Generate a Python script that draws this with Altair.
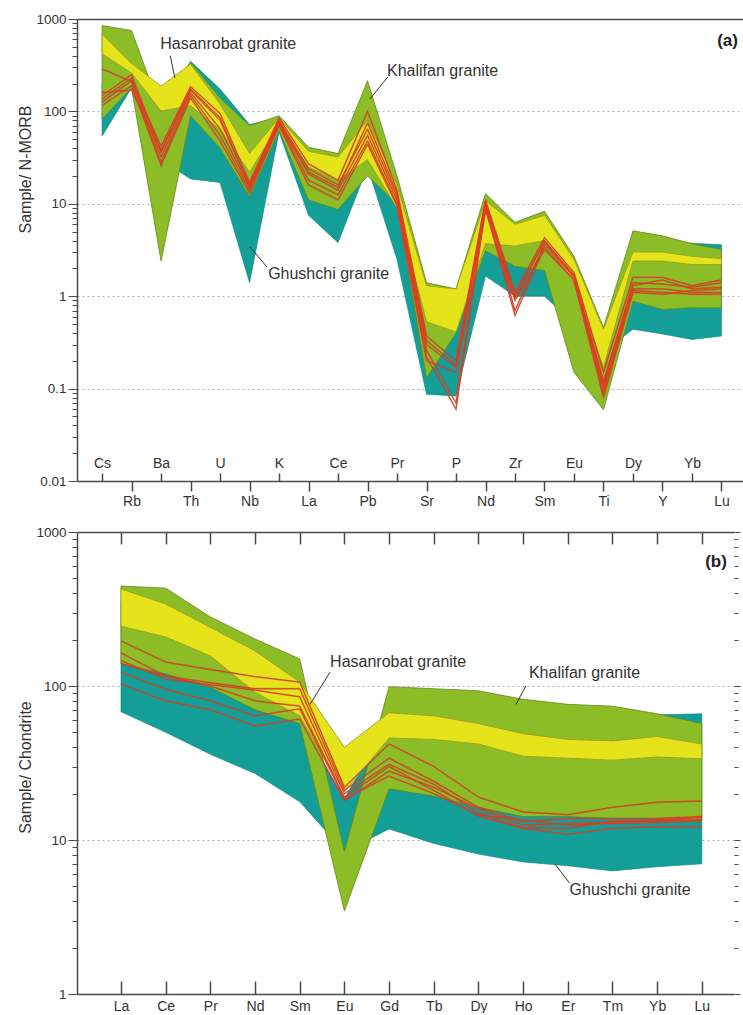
import altair as alt
import pandas as pd
import math

FONT = "Liberation Sans"
TXT = "#333333"
AXC = "#4a4a4a"
GREEN = "#8DBD26"
YELLOW = "#E5E41B"
TEAL = "#139E98"
RED = "#E53A1C"

# ---------------- Panel (a): N-MORB normalised spider diagram ----------------
elements_a = ["Cs", "Rb", "Ba", "Th", "U", "Nb", "K", "La", "Ce", "Pb", "Pr",
              "Sr", "P", "Nd", "Zr", "Sm", "Eu", "Ti", "Dy", "Y", "Yb", "Lu"]
khalifan_hi_a = [850, 750, 100, 340, 140, 70, 90, 41, 35, 215, 20, 1.4, 1.2, 12.9, 6.3, 8.3, 2.7, 0.46, 5.1, 4.5, 3.7, 3.2]
khalifan_lo_a = [83, 180, 2.4, 90, 40, 12, 62, 11, 8.7, 20, 10, 0.13, 0.4, 3.1, 2.1, 1.9, 0.15, 0.059, 0.88, 0.72, 0.75, 0.75]
hasanrobat_hi_a = [690, 330, 188, 325, 120, 35, 85, 37, 32, 80, 16, 1.3, 1.2, 10.8, 6, 7.5, 2.5, 0.44, 3.0, 3.0, 2.7, 2.55]
hasanrobat_lo_a = [420, 260, 101, 115, 64, 22, 72, 25, 18, 30, 9, 0.53, 0.41, 3.7, 3.5, 4, 1.4, 0.17, 2.4, 2.4, 2.2, 2.2]
ghushchi_hi_a = [200, 250, 100, 350, 175, 72, 85, 35, 30, 60, 15, 1.3, 1.0, 10, 5, 6, 2, 0.3, 4.0, 3.8, 3.75, 3.6]
ghushchi_lo_a = [54, 180, 30, 18.6, 17, 1.4, 60, 7.5, 3.8, 25, 2.5, 0.087, 0.083, 1.65, 1.0, 1.0, 0.5, 0.25, 0.44, 0.39, 0.34, 0.37]
samples_a = [
    [288, 210, 42, 185, 95, 17, 85, 27, 18, 100, 14, 0.37, 0.2, 11, 1.1, 4.3, 1.8, 0.15, 1.6, 1.6, 1.3, 1.5],
    [148, 250, 36, 170, 80, 16, 80, 24, 16, 64, 12, 0.3, 0.17, 10, 0.95, 4.0, 1.7, 0.12, 1.3, 1.5, 1.2, 1.25],
    [136, 230, 32, 160, 65, 15, 76, 21, 14, 55, 11, 0.26, 0.07, 9.5, 0.7, 3.7, 1.6, 0.1, 1.2, 1.2, 1.1, 1.1],
    [126, 215, 28, 150, 55, 14, 73, 18, 12.5, 48, 10, 0.22, 0.06, 9, 0.62, 3.4, 1.5, 0.09, 1.15, 1.1, 1.05, 1.05],
    [116, 190, 26, 140, 48, 13, 70, 16, 11, 44, 9.5, 0.2, 0.15, 8.5, 0.9, 3.2, 1.5, 0.08, 1.1, 1.05, 1.15, 1.2],
    [160, 170, 38, 175, 85, 15.5, 78, 22, 15, 75, 13, 0.33, 0.18, 10.5, 1.0, 3.9, 1.65, 0.11, 1.4, 1.35, 1.25, 1.4],
]
annot_text_a = ["Hasanrobat granite", "Khalifan granite", "Ghushchi granite"]
annot_x_a = [1.97, 9.66, 5.63]
annot_y_a = [537, 274, 1.74]
leader_x1_a = [2.31, 9.69, 5.59]
leader_y1_a = [401, 236, 2.07]
leader_x2_a = [2.47, 9.08, 5.02]
leader_y2_a = [230, 136, 3.4]
panel_a_label = "(a)"
panel_a_pos = [21.56, 578]

# ---------------- Panel (b): chondrite normalised REE diagram ----------------
elements_b = ["La", "Ce", "Pr", "Nd", "Sm", "Eu", "Gd", "Tb", "Dy", "Ho", "Er", "Tm", "Yb", "Lu"]
khalifan_hi_b = [446, 432, 281, 202, 150, 8.4, 99, 96, 93, 82, 76, 74, 66, 57]
khalifan_lo_b = [139, 120, 98, 70, 57, 3.46, 21.5, 19.3, 16.3, 14.2, 14.2, 13.8, 13.8, 13.3]
hasanrobat_hi_b = [427, 341, 240, 169, 106, 40, 67, 64, 57, 49, 45, 44, 47, 42]
hasanrobat_lo_b = [245, 208, 157, 91, 64, 20.5, 46, 45, 42, 35, 34, 33, 34.6, 33.7]
ghushchi_hi_b = [356, 300, 200, 150, 57, 18.5, 60, 60, 60, 60, 60, 60, 65, 66]
ghushchi_lo_b = [68, 50, 36, 27, 17.7, 8.4, 11.8, 9.5, 8.1, 7.2, 6.8, 6.3, 6.7, 7.0]
samples_b = [
    [196, 143, 128, 115, 106, 22, 42, 30, 19, 15.2, 14.6, 16.3, 17.6, 17.9],
    [164, 116, 105, 96, 96, 21, 34, 24, 16.3, 13.2, 13.8, 13.8, 13.8, 14.2],
    [146, 111, 102, 94, 85, 20, 31, 23, 15, 12, 11.9, 13.3, 13.3, 13.6],
    [140, 116, 100, 80, 74, 19, 30, 21, 14.3, 11.9, 10.9, 11.9, 12.2, 12.2],
    [123, 95, 80, 64, 71, 18.5, 26, 20, 14.5, 13.5, 12.5, 12.8, 13, 13.3],
    [103, 80, 70, 55, 61, 18, 28, 22, 16, 12.5, 12.8, 13, 13.5, 14],
]
annot_text_b = ["Hasanrobat granite", "Khalifan granite", "Ghushchi granite"]
annot_x_b = [4.68, 9.13, 10.04]
annot_y_b = [143, 121, 4.73]
leader_x1_b = [4.68, 9.06, 10.04]
leader_y1_b = [123, 100, 5.25]
leader_x2_b = [4.23, 8.84, 9.71]
leader_y2_b = [76, 76, 7.0]
panel_b_label = "(b)"
panel_b_pos = [13.56, 638]

H = 462
W_A = 666
W_B = 657


def field_df(lo, hi):
    return pd.DataFrame({"i": list(range(len(lo))), "lo": lo, "hi": hi})


def sample_df(samples):
    rows = []
    for s, vals in enumerate(samples):
        for i, v in enumerate(vals):
            rows.append({"s": s, "i": i, "v": v})
    return pd.DataFrame(rows)


def y_values(lo_exp, hi_exp):
    vals = []
    for e in range(lo_exp, hi_exp):
        for m in range(1, 10):
            vals.append(round(m * 10 ** e, 6))
    vals.append(round(10 ** hi_exp, 6))
    return vals


MAJ = "abs(log(datum.value)/LN10 - round(log(datum.value)/LN10)) < 0.001"


def y_axis(title, lo, hi, title_y, orient="left", show=True):
    inner = f"({MAJ}) && datum.value > {lo * 1.01} && datum.value < {hi * 0.99}"
    vals = y_values(int(round(math.log10(lo))), int(round(math.log10(hi))))
    kw = dict(orient=orient, values=vals, tickColor=AXC, tickWidth=1,
              labelOverlap=False, labelFlush=False)
    if show:
        kw.update(
            tickSize={"condition": {"test": MAJ, "value": 9}, "value": 5},
            domain=True, domainColor=AXC, domainWidth=1.5,
            title=title, titleFont=FONT, titleFontSize=16, titleFontWeight="normal",
            titleColor=TXT, titleX=-44, titleY=title_y, titleAngle=270,
            labelExpr=f"({MAJ}) ? toString(datum.value) : ''",
            labelFont=FONT, labelFontSize=13.5, labelColor=TXT, labelPadding=2,
            grid=True, gridDash=[2, 3], gridColor="#b0b0b0", gridWidth=1,
            gridOpacity={"condition": {"test": inner, "value": 1}, "value": 0},
        )
    else:
        kw.update(tickSize={"condition": {"test": MAJ, "value": 6}, "value": 4},
                  domain=False, title=None, labels=False, grid=False)
    return alt.Axis(**kw)


def name_expr(names):
    return "[" + ",".join("'" + n + "'" for n in names) + "][datum.value]"


def build_panel(elements, kh_lo, kh_hi, ha_lo, ha_hi, gh_lo, gh_hi, samples,
                a_text, a_x, a_y, l_x1, l_y1, l_x2, l_y2, plabel, ppos,
                xdom, ydom, width, ytitle, ytitle_y, axes_x, right_axis):
    xs = alt.Scale(domain=xdom, nice=False, zero=False)
    ys = alt.Scale(type="log", domain=ydom, nice=False)

    teal = alt.Chart(field_df(gh_lo, gh_hi)).mark_area(
        fill=TEAL, stroke="#0f8580", strokeWidth=0.6).encode(
        x=alt.X("i:Q", scale=xs, axis=axes_x[0]),
        y=alt.Y("lo:Q", scale=ys, axis=y_axis(ytitle, ydom[0], ydom[1], ytitle_y)),
        y2="hi:Q")
    green = alt.Chart(field_df(kh_lo, kh_hi)).mark_area(
        fill=GREEN, stroke="#5f8a1a", strokeWidth=0.8).encode(
        x=alt.X("i:Q", scale=xs, axis=axes_x[1]),
        y=alt.Y("lo:Q", scale=ys, axis=right_axis),
        y2="hi:Q")
    yellow = alt.Chart(field_df(ha_lo, ha_hi)).mark_area(
        fill=YELLOW, stroke="#9b9a22", strokeWidth=0.8).encode(
        x=alt.X("i:Q", scale=xs, axis=axes_x[2]),
        y=alt.Y("lo:Q", scale=ys, axis=None),
        y2="hi:Q")
    sdf = sample_df(samples)
    under = alt.Chart(sdf).mark_line(color="#9a5a48", strokeWidth=1.9, opacity=0.45).encode(
        x=alt.X("i:Q", scale=xs, axis=None),
        y=alt.Y("v:Q", scale=ys, axis=None),
        detail="s:N")
    lines = alt.Chart(sdf).mark_line(color=RED, strokeWidth=1.0).encode(
        x=alt.X("i:Q", scale=xs, axis=None),
        y=alt.Y("v:Q", scale=ys, axis=None),
        detail="s:N")
    ldf = pd.DataFrame({"x1": l_x1, "y1": l_y1, "x2": l_x2, "y2": l_y2})
    leaders = alt.Chart(ldf).mark_rule(color="#333333", strokeWidth=1).encode(
        x=alt.X("x1:Q", scale=xs, axis=None),
        y=alt.Y("y1:Q", scale=ys, axis=None),
        x2="x2:Q", y2="y2:Q")
    tdf = pd.DataFrame({"x": a_x, "y": a_y, "t": a_text})
    texts = alt.Chart(tdf).mark_text(align="left", baseline="middle", font=FONT,
                                     fontSize=16, color=TXT).encode(
        x=alt.X("x:Q", scale=xs, axis=None),
        y=alt.Y("y:Q", scale=ys, axis=None),
        text="t:N")
    pdf = pd.DataFrame({"x": [ppos[0]], "y": [ppos[1]], "t": [plabel]})
    ptext = alt.Chart(pdf).mark_text(align="right", baseline="middle", font=FONT,
                                     fontSize=17, fontWeight="bold", color="#222222").encode(
        x=alt.X("x:Q", scale=xs, axis=None),
        y=alt.Y("y:Q", scale=ys, axis=None),
        text="t:N")
    return alt.layer(teal, green, yellow, under, lines, leaders, texts, ptext).properties(
        width=width, height=H).resolve_axis(x="independent", y="independent")


common_x = dict(labelFont=FONT, labelFontSize=14, labelColor=TXT, tickColor=AXC,
                tickWidth=1.5, domainColor=AXC, domainWidth=1.5, grid=False,
                title=None, labelFlush=False, labelOverlap=False)

nA = len(elements_a)
axes_a = [
    alt.Axis(orient="bottom", values=list(range(1, nA, 2)), tickSize=10, labelPadding=3,
             labelExpr=name_expr(elements_a), domain=True, **common_x),
    alt.Axis(orient="top", offset=-H, values=list(range(0, nA, 2)), tickSize=8, labelPadding=3,
             labelExpr=name_expr(elements_a), domain=False, **common_x),
    alt.Axis(orient="top", ticks=False, labels=False, domain=True, **common_x),
]
nB = len(elements_b)
axes_b = [
    alt.Axis(orient="bottom", values=list(range(nB)), ticks=False, labelPadding=5,
             labelExpr=name_expr(elements_b), domain=True, **common_x),
    alt.Axis(orient="top", offset=-H, values=list(range(nB)), tickSize=13, labels=False,
             domain=False, **common_x),
    alt.Axis(orient="bottom", offset=-H, values=list(range(nB)), tickSize=12, labels=False,
             domain=True, **common_x),
]

chart_a = build_panel(elements_a, khalifan_lo_a, khalifan_hi_a, hasanrobat_lo_a, hasanrobat_hi_a,
                      ghushchi_lo_a, ghushchi_hi_a, samples_a,
                      annot_text_a, annot_x_a, annot_y_a,
                      leader_x1_a, leader_y1_a, leader_x2_a, leader_y2_a,
                      panel_a_label, panel_a_pos,
                      [-0.85, 21.73], [0.01, 1000], W_A, "Sample/ N-MORB", 150, axes_a, None)

chart_b = build_panel(elements_b, khalifan_lo_b, khalifan_hi_b, hasanrobat_lo_b, hasanrobat_hi_b,
                      ghushchi_lo_b, ghushchi_hi_b, samples_b,
                      annot_text_b, annot_x_b, annot_y_b,
                      leader_x1_b, leader_y1_b, leader_x2_b, leader_y2_b,
                      panel_b_label, panel_b_pos,
                      [-0.985, 13.72], [1, 1000], W_B, "Sample/ Chondrite", 235, axes_b,
                      y_axis(None, 1, 1000, 0, orient="right", show=False))

chart = alt.vconcat(chart_a, chart_b, spacing=17).configure_view(stroke=None).properties(
    padding={"left": 17, "top": 12, "right": 0, "bottom": 0}, background="white")

chart.save("out.html", embed_options={"renderer": "svg", "actions": False})
